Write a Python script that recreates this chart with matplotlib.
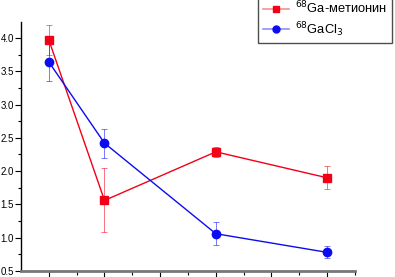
import matplotlib.pyplot as plt
from matplotlib.lines import Line2D
import numpy as np

plt.rcParams['font.family'] = ['Liberation Sans', 'DejaVu Sans']

# data
x = [1, 2, 4, 6]
met_y = [3.97, 1.56, 2.29, 1.90]
met_err = [0.23, 0.48, 0.08, 0.17]
cl_y = [3.64, 2.42, 1.06, 0.78]
cl_err = [0.28, 0.22, 0.17, 0.09]
labels = ['$^{68}$Ga-метионин', '$^{68}$GaCl$_3$']

fig = plt.figure(figsize=(3.95, 2.77), dpi=100)
W, H = 395, 277
ax = fig.add_axes([21 / W, (H - 271) / H, (355 - 21) / W, (271 - 22) / H])

red = '#f20018'
blue = '#0c0cf0'

ax.errorbar(x, met_y, yerr=met_err, fmt='none', ecolor=red, elinewidth=0.7,
            capsize=2, capthick=0.7, alpha=0.55, zorder=2)
ax.errorbar(x, cl_y, yerr=cl_err, fmt='none', ecolor=blue, elinewidth=0.7,
            capsize=2, capthick=0.7, alpha=0.55, zorder=2)
ax.plot(x, met_y, color=red, lw=1.0, marker='s', ms=5.5, mec=red, mfc=red, zorder=3)
ax.plot(x, cl_y, color=blue, lw=1.0, marker='o', ms=6, mec=blue, mfc=blue, zorder=3)

ax.set_xlim(0.5, 6.5)
ax.set_ylim(0.5, 4.24)
ax.set_yticks(np.arange(0.5, 4.01, 0.5))
ax.set_yticks(np.arange(0.75, 4.2, 0.5), minor=True)
ax.set_xticks(range(1, 7))
ax.set_xticks(np.arange(1.5, 6.6, 1), minor=True)
ax.set_xticklabels([])
ax.yaxis.set_major_formatter(plt.FormatStrFormatter('%.1f'))

for s in ['top', 'right']:
    ax.spines[s].set_visible(False)
ax.spines['left'].set_linewidth(1.0)
ax.spines['bottom'].set_linewidth(2.0)
ax.spines['bottom'].set_color('#777777')

ax.tick_params(axis='y', which='major', length=4, width=0.8, labelsize=7, pad=1.2)
ax.tick_params(axis='y', which='minor', length=2.5, width=0.8)
ax.tick_params(axis='x', which='major', length=5, width=0.8)
ax.tick_params(axis='x', which='minor', length=3, width=0.8)

handles = [
    Line2D([], [], color='#f79090', lw=1.2, marker='s', ms=4.5, mfc=red, mec=red),
    Line2D([], [], color='#9090f5', lw=1.2, marker='o', ms=5, mfc=blue, mec=blue),
]
leg = fig.legend(handles, labels, loc='upper right', bbox_to_anchor=(1.002, 1.03),
                 fontsize=9.3, frameon=True, fancybox=False, shadow=False,
                 handlelength=2.0, borderpad=0.35, labelspacing=0.25,
                 handletextpad=0.5, borderaxespad=0.3)
leg.get_frame().set_edgecolor('#222222')
leg.get_frame().set_linewidth(1.0)

fig.savefig('out.png', dpi=100)
